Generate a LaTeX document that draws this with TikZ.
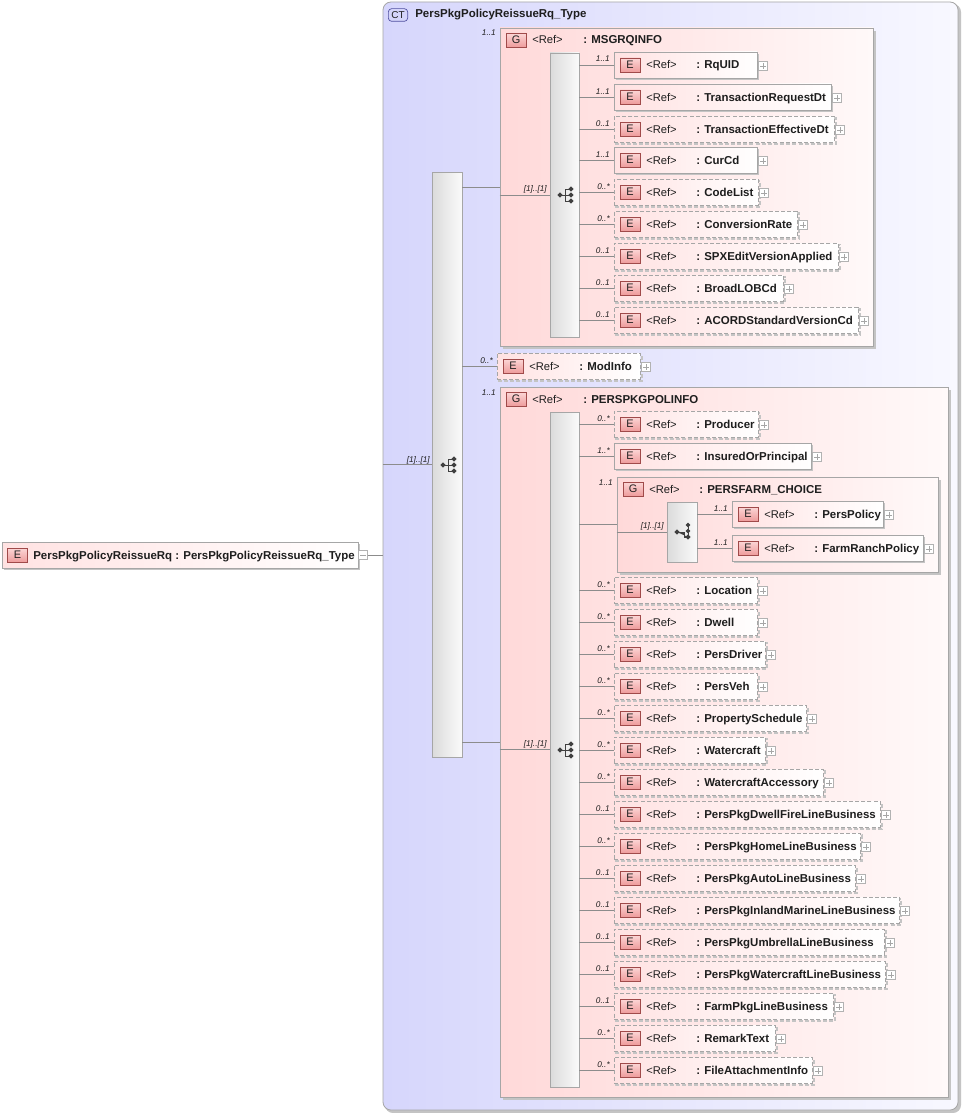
\documentclass[tikz,border=0pt]{standalone}
\usepackage{fontspec}
\setmainfont{Liberation Sans}
\usetikzlibrary{calc}
\definecolor{linegray}{HTML}{8C8C8C}
\definecolor{boxborder}{HTML}{A6A6A6}
\definecolor{shadowgray}{HTML}{C4C4C4}
\definecolor{ctL}{HTML}{D6D6FC}
\definecolor{ctR}{HTML}{F8F8FF}
\definecolor{grpL}{HTML}{FFD9D9}
\definecolor{grpR}{HTML}{FFF9F9}
\definecolor{elL}{HTML}{FFE2E2}
\definecolor{badgeT}{HTML}{FCD6D6}
\definecolor{badgeB}{HTML}{EE9C9C}
\definecolor{badgeD}{HTML}{A04A4A}
\definecolor{ctbadge}{HTML}{D4D4FA}
\definecolor{ctbadgeD}{HTML}{5050A0}
\definecolor{txt}{HTML}{1E1E1E}
\tikzset{
  conn/.style={draw=linegray, line width=0.6pt},
  icon/.style={draw=black!75, fill=black!75, line width=0.7pt},
  ctbox/.style={draw=boxborder, line width=0.6pt, rounded corners=6pt, left color=ctL, right color=ctR, inner sep=0pt},
  grpbox/.style={draw=boxborder, line width=0.6pt, left color=grpL, right color=grpR, inner sep=0pt},
  seqbar/.style={draw=boxborder, line width=0.6pt, left color=black!14, right color=black!2, inner sep=0pt},
  elbox/.style={draw=boxborder, line width=0.6pt, left color=elL, right color=white, inner sep=0pt},
  els/.style={},
  eld/.style={dashed, dash pattern=on 3pt off 1.6pt},
  shad s/.style={fill=shadowgray},
  shad d/.style={draw=shadowgray, line width=0.8pt, dash pattern=on 3pt off 1.6pt},
  grpshadow/.style={fill=shadowgray},
  badge/.style={draw=badgeD, line width=0.5pt, top color=badgeT, bottom color=badgeB, minimum width=15pt, minimum height=10.5pt, inner sep=0pt, font=\fontsize{8.2}{9}\selectfont, text=txt},
  ctbadgest/.style={draw=ctbadgeD, line width=0.5pt, fill=ctbadge, rounded corners=2.5pt, minimum width=14.5pt, minimum height=9.5pt, inner sep=0pt, font=\fontsize{7.5}{9}\selectfont, text=txt},
  reftxt/.style={anchor=base west, inner sep=0pt, font=\fontsize{8.4}{10}\selectfont, text=txt},
  nametxt/.style={anchor=base west, inner sep=0pt, font=\fontsize{8.6}{10}\selectfont\bfseries, text=txt},
  cardtxt/.style={anchor=base east, inner sep=0pt, font=\fontsize{6.2}{7}\selectfont\itshape, text=txt},
  plusbox/.style={draw=black!30, fill=white, line width=0.4pt, minimum width=6.5pt, minimum height=6.5pt, inner sep=0pt},
  plusline/.style={draw=black!35, line width=0.4pt}
}
% box node from corner coordinates
\newcommand\bx[6]{\node[#1,minimum width={((#5)-(#3))*0.75pt},minimum height={((#6)-(#4))*0.75pt}] (#2) at ({((#3)+(#5))/2},{((#4)+(#6))/2}) {};}
% element: id, left, right, cy, card, s/d, name, parent bar
\newcommand\el[8]{%
  \path[shad #6] ({#2+2},{#4-13+2}) rectangle ({#3+2},{#4+13+2});
  \bx{elbox,el#6}{#1}{#2}{#4-13}{#3}{#4+13}
  \node[badge] (#1b) at ({#2+16},#4) {E};
  \node[reftxt] (#1r) at ({#2+32},{#4+4}) {<Ref>};
  \node[nametxt] (#1n) at ({#2+82},{#4+4}) {: #7};
  \node[plusbox] (#1p) at ({#3+6},{#4+1}) {};
  \draw[plusline] ($(#1p.west)+(2,0)$) -- ($(#1p.east)+(-2,0)$) ($(#1p.north)+(0,2)$) -- ($(#1p.south)+(0,-2)$);
  \node[cardtxt] (#1c) at ({#2-4},{#4-3}) {#5};
  \draw[conn] (#8.east |- #1.west) -- (#1.west);
}
\newcommand\seqicon[2]{%
  \draw[icon] ({#1-6},#2) -- ({#1-1},#2) ({#1-1},{#2-6}) -- ({#1-1},{#2+6})
     ({#1-1},{#2-6}) -- ({#1+5},{#2-6}) ({#1-1},#2) -- ({#1+5},#2) ({#1-1},{#2+6}) -- ({#1+5},{#2+6});
  \fill[icon] ({#1-6},#2) circle (1.4pt) ({#1+5},{#2-6}) circle (1.4pt) ({#1+5},#2) circle (1.4pt) ({#1+5},{#2+6}) circle (1.4pt);
}
\newcommand\choiceicon[2]{%
  \draw[icon] ({#1-6},#2) -- ({#1+1},#2) -- ({#1+1},{#2+5}) -- ({#1+5},{#2+5});
  \draw[icon] ({#1+5},{#2-7}) -- ({#1+5},{#2+5});
  \fill[icon] ({#1-6},#2) circle (1.4pt) ({#1+5},{#2-7}) circle (1.3pt) ({#1+5},{#2-1}) circle (1.3pt) ({#1+5},{#2+5}) circle (1.4pt);
}
\begin{document}
\begin{tikzpicture}[x=0.75pt,y=-0.75pt]
\useasboundingbox (0,0) rectangle (962,1113);
\fill[white] (0,0) rectangle (962,1113);
% ---------- CT box
\fill[shadowgray, rounded corners=6pt] (385,4) rectangle (961,1113);
\bx{ctbox}{ct}{383}{2}{958}{1110}
\node[ctbadgest] (ctb) at (398,15) {CT};
\node[nametxt] (ctt) at (415,18) {PersPkgPolicyReissueRq\_Type};
% ---------- root element
\fill[shadowgray] (4,544) rectangle (360,570);
\bx{elbox}{root}{2}{542}{358}{568}
\node[badge] (rootb) at (17.5,555) {E};
\node[nametxt] (rootn) at (33,559) {PersPkgPolicyReissueRq : PersPkgPolicyReissueRq\_Type};
\node[plusbox] (rootm) at (363,555) {};
\draw[plusline] ($(rootm.west)+(2,0)$) -- ($(rootm.east)+(-2,0)$);
\draw[conn] (rootm.east) -- (ct.west |- rootm.east);
% ---------- outer sequence
\bx{seqbar}{seq0}{432}{172}{462}{757}
\seqicon{449}{465}
\draw[conn] (ct.west |- seq0.west) -- (seq0.west);
\node[cardtxt] (seq0c) at (430,462) {[1]..[1]};
% ---------- MSGRQINFO
\fill[grpshadow] (503,31) rectangle (876,349);
\bx{grpbox}{msg}{500}{28}{873}{346}
\node[badge] (msgb) at (516,40) {G};
\node[reftxt] (msgr) at (532,44) {<Ref>};
\node[nametxt] (msgn) at (583,44) {: MSGRQINFO};
\node[cardtxt] (msgc) at (496,36) {1..1};
\draw[conn] (seq0.east |- msg.west) -- (msg.west);
\bx{seqbar}{seq1}{550}{53}{579}{337}
\seqicon{566}{195}
\draw[conn] (msg.west |- seq1.west) -- (seq1.west);
\node[cardtxt] (seq1c) at (547,191) {[1]..[1]};
\el{m1}{614}{757}{65}{1..1}{s}{RqUID}{seq1}
\el{m2}{614}{831}{97}{1..1}{s}{TransactionRequestDt}{seq1}
\el{m3}{614}{834}{129}{0..1}{d}{TransactionEffectiveDt}{seq1}
\el{m4}{614}{757}{160}{1..1}{s}{CurCd}{seq1}
\el{m5}{614}{758}{192}{0..*}{d}{CodeList}{seq1}
\el{m6}{614}{797}{224}{0..*}{d}{ConversionRate}{seq1}
\el{m7}{614}{838}{256}{0..1}{d}{SPXEditVersionApplied}{seq1}
\el{m8}{614}{783}{288}{0..1}{d}{BroadLOBCd}{seq1}
\el{m9}{614}{858}{320}{0..1}{d}{ACORDStandardVersionCd}{seq1}
% ---------- ModInfo
\el{mod}{497}{640}{366}{0..*}{d}{ModInfo}{seq0}
% ---------- PERSPKGPOLINFO
\fill[grpshadow] (503,390) rectangle (951,1100);
\bx{grpbox}{ppi}{500}{387}{948}{1097}
\node[badge] (ppib) at (516,399) {G};
\node[reftxt] (ppir) at (532,403) {<Ref>};
\node[nametxt] (ppin) at (583,403) {: PERSPKGPOLINFO};
\node[cardtxt] (ppic) at (496,395) {1..1};
\draw[conn] (seq0.east |- ppi.west) -- (ppi.west);
\bx{seqbar}{seq2}{550}{412}{579}{1087}
\seqicon{566}{750}
\draw[conn] (ppi.west |- seq2.west) -- (seq2.west);
\node[cardtxt] (seq2c) at (547,746) {[1]..[1]};
\el{p1}{614}{758}{424}{0..*}{d}{Producer}{seq2}
\el{p2}{614}{811}{456}{1..*}{s}{InsuredOrPrincipal}{seq2}
% PERSFARM_CHOICE
\fill[grpshadow] (620,480) rectangle (941,575);
\bx{grpbox}{pfc}{617}{477}{938}{572}
\node[badge] (pfcb) at (633,489) {G};
\node[reftxt] (pfcr) at (649,493) {<Ref>};
\node[nametxt] (pfcn) at (699,493) {: PERSFARM\_CHOICE};
\node[cardtxt] (pfcc) at (613,485) {1..1};
\draw[conn] (seq2.east |- pfc.west) -- (pfc.west);
\bx{seqbar}{ch}{667}{502}{697}{562}
\choiceicon{683}{532}
\draw[conn] (pfc.west |- ch.west) -- (ch.west);
\node[cardtxt] (chc) at (664,528) {[1]..[1]};
\el{c1}{732}{883}{514}{1..1}{s}{PersPolicy}{ch}
\el{c2}{732}{923}{548}{1..1}{s}{FarmRanchPolicy}{ch}
% rest
\el{p3}{614}{757}{590}{0..*}{d}{Location}{seq2}
\el{p4}{614}{757}{622}{0..*}{d}{Dwell}{seq2}
\el{p5}{614}{765}{654}{0..*}{d}{PersDriver}{seq2}
\el{p6}{614}{757}{686}{0..*}{d}{PersVeh}{seq2}
\el{p7}{614}{806}{718}{0..*}{d}{PropertySchedule}{seq2}
\el{p8}{614}{765}{750}{0..*}{d}{Watercraft}{seq2}
\el{p9}{614}{823}{782}{0..*}{d}{WatercraftAccessory}{seq2}
\el{p10}{614}{880}{814}{0..1}{d}{PersPkgDwellFireLineBusiness}{seq2}
\el{p11}{614}{860}{846}{0..*}{d}{PersPkgHomeLineBusiness}{seq2}
\el{p12}{614}{855}{878}{0..1}{d}{PersPkgAutoLineBusiness}{seq2}
\el{p13}{614}{899}{910}{0..1}{d}{PersPkgInlandMarineLineBusiness}{seq2}
\el{p14}{614}{884}{942}{0..1}{d}{PersPkgUmbrellaLineBusiness}{seq2}
\el{p15}{614}{885}{974}{0..1}{d}{PersPkgWatercraftLineBusiness}{seq2}
\el{p16}{614}{833}{1006}{0..1}{d}{FarmPkgLineBusiness}{seq2}
\el{p17}{614}{775}{1038}{0..*}{d}{RemarkText}{seq2}
\el{p18}{614}{812}{1070}{0..*}{d}{FileAttachmentInfo}{seq2}
\end{tikzpicture}
\end{document}
